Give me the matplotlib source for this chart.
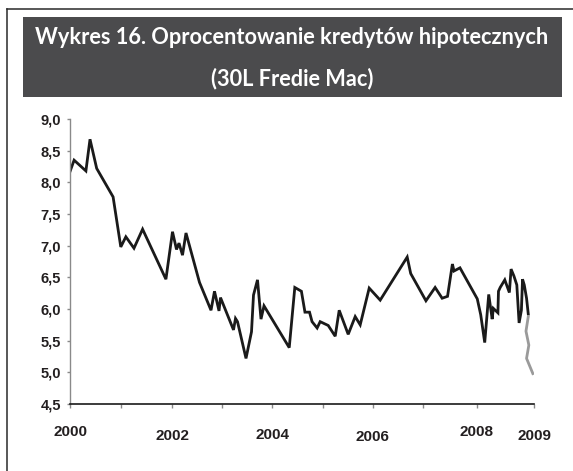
#!/usr/bin/env python3

# plot.py - Wykres 16: oprocentowanie kredytow hipotecznych (30L Freddie Mac)

import numpy as np
import matplotlib
matplotlib.use("Agg")
import matplotlib.pyplot as plt
from matplotlib.patches import Rectangle
from matplotlib.lines import Line2D

# data (decimal year, rate %)
years = [
    2000.00, 2000.08, 2000.31, 2000.39, 2000.52, 2000.84, 2000.99, 2001.09,
    2001.25, 2001.42, 2001.88, 2002.01, 2002.09, 2002.14, 2002.21, 2002.28,
    2002.55, 2002.78, 2002.85, 2002.94, 2002.97, 2003.23, 2003.27, 2003.31,
    2003.48, 2003.59, 2003.63, 2003.71, 2003.78, 2003.84, 2004.34, 2004.45,
    2004.58, 2004.65, 2004.74, 2004.79, 2004.89, 2004.95, 2005.11, 2005.25,
    2005.33, 2005.51, 2005.65, 2005.75, 2005.93, 2006.15, 2006.69, 2006.76,
    2007.06, 2007.23, 2007.36, 2007.46, 2007.55, 2007.58, 2007.69, 2008.01,
    2008.07, 2008.14, 2008.21, 2008.27, 2008.29, 2008.37, 2008.38, 2008.41,
    2008.49, 2008.57, 2008.60, 2008.65, 2008.70, 2008.74, 2008.78, 2008.80,
    2008.83, 2008.87, 2008.90,
]
rates = [
    8.17, 8.35, 8.18, 8.68, 8.22, 7.77, 6.98, 7.14,
    6.96, 7.26, 6.47, 7.22, 6.94, 7.04, 6.85, 7.20,
    6.42, 5.98, 6.28, 5.97, 6.18, 5.67, 5.85, 5.80,
    5.22, 5.64, 6.22, 6.46, 5.84, 6.05, 5.39, 6.34,
    6.28, 5.95, 5.95, 5.80, 5.70, 5.80, 5.74, 5.57,
    5.98, 5.60, 5.88, 5.75, 6.33, 6.14, 6.82, 6.56,
    6.13, 6.34, 6.17, 6.20, 6.71, 6.60, 6.65, 6.16,
    5.91, 5.47, 6.23, 5.84, 6.01, 5.94, 6.28, 6.34,
    6.46, 6.26, 6.63, 6.52, 6.38, 5.78, 5.98, 6.47,
    6.38, 6.17, 5.92,
]
# grey tail at the end of the series
tail_years = [2008.90, 2008.86, 2008.91, 2008.87, 2008.98]
tail_rates = [5.88, 5.65, 5.43, 5.22, 4.98]

tick_years = list(range(2000, 2010))
label_years = [2000, 2002, 2004, 2006, 2008, 2009]
label_dy = [0, -3, -2, -4, 0, -3]   # labels sit at slightly different heights
y_ticks = np.arange(4.5, 9.01, 0.5)

# source chart uses a category axis, so years are not evenly spaced
tick_pos = [0, 51.3, 102, 152, 202, 252.7, 302.7, 352.7, 406.7, 464]
ext_years = [1990] + tick_years + [2020]
ext_pos = [-513] + tick_pos + [464 + 11 * 57.3]


def fwd(x):
    return np.interp(x, ext_years, ext_pos)


def inv(x):
    return np.interp(x, ext_pos, ext_years)


W, H = 573, 471
fig = plt.figure(figsize=(W / 100, H / 100), dpi=100)

# outer frame (cut off at right and bottom)
fig.add_artist(Line2D([7 / W, 7 / W], [0, 1 - 9 / H], transform=fig.transFigure,
                      color="#2a2a2a", lw=1.1))
fig.add_artist(Line2D([7 / W, 1], [1 - 9 / H, 1 - 9 / H], transform=fig.transFigure,
                      color="#2a2a2a", lw=1.1))

# title box
fig.add_artist(Rectangle((22.7 / W, 1 - 96.7 / H), (562.3 - 22.7) / W, 80 / H,
                         transform=fig.transFigure, facecolor="#4b4b4d",
                         edgecolor="none"))
title_font = dict(color="white", fontsize=15.7, fontweight="bold",
                  family=["Lato", "DejaVu Sans"], ha="center", va="baseline")
fig.text(292 / W, 1 - 44.5 / H, "Wykres 16. Oprocentowanie kredytów hipotecznych",
         **title_font)
fig.text(292 / W, 1 - 85 / H, "(30L Fredie Mac)", **title_font)

ax = fig.add_axes([70 / W, 1 - 404 / H, (534 - 70) / W, (404 - 119) / H])
ax.set_xscale("function", functions=(fwd, inv))

ax.plot(years, rates, color="#1a1a1a", lw=2.0, solid_joinstyle="miter")
ax.plot(tail_years, tail_rates, color="#9a9a9a", lw=2.0)

ax.set_xlim(2000, 2009)
ax.set_ylim(4.5, 9.0)

for s in ["top", "right"]:
    ax.spines[s].set_visible(False)
ax.spines["left"].set_color("#8a8a8a")
ax.spines["left"].set_linewidth(1.0)
ax.spines["bottom"].set_color("#1a1a1a")
ax.spines["bottom"].set_linewidth(1.2)

ax.set_yticks(y_ticks)
ax.set_yticklabels([f"{v:.1f}".replace(".", ",") for v in y_ticks],
                   fontsize=10.5, fontweight="bold", family="Liberation Sans",
                   color="#231f20")
ax.tick_params(axis="y", direction="out", length=2.5, width=1.0,
               color="#8a8a8a", pad=4)

ax.set_xticks(tick_years)
ax.set_xticklabels([])
ax.tick_params(axis="x", direction="out", length=3, width=1.0, color="#8a8a8a")

for yr, dy in zip(label_years, label_dy):
    ax.annotate(str(yr), xy=(yr, 0), xycoords=("data", "axes fraction"),
                xytext=(0, -20 + dy), textcoords="offset points",
                ha="center", va="center", fontsize=11, fontweight="bold",
                family="Liberation Sans", color="#231f20", annotation_clip=False)

fig.savefig("out.png", dpi=100)
